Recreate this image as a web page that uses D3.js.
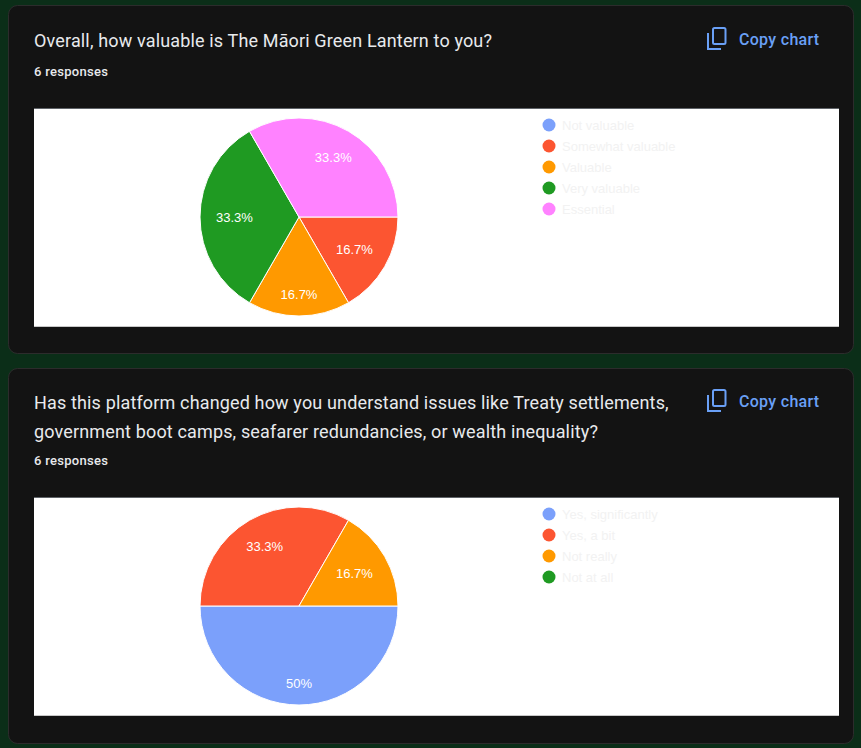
<!DOCTYPE html>
<html>
<head>
<meta charset="utf-8">
<script src="https://cdn.jsdelivr.net/npm/d3@7"></script>
<style>
  html, body { margin: 0; padding: 0; background: #0b2e18; }
  svg { display: block; }
</style>
</head>
<body>
<div id="chart"></div>
<script>
// Chart 1 data
const q1Title = ["Overall, how valuable is The Māori Green Lantern to you?"];
const q1Labels = ["Not valuable", "Somewhat valuable", "Valuable", "Very valuable", "Essential"];
const q1Counts = [0, 1, 1, 2, 2];

// Chart 2 data
const q2Title = [
  "Has this platform changed how you understand issues like Treaty settlements,",
  "government boot camps, seafarer redundancies, or wealth inequality?"
];
const q2Labels = ["Yes, significantly", "Yes, a bit", "Not really", "Not at all"];
const q2Counts = [3, 2, 1, 0];

const responses = "6 responses";
const palette = ["#7ba0fb", "#fc5531", "#ff9900", "#1f9a22", "#ff82ff"];

const W = 861, H = 748;
const svg = d3.select("#chart").append("svg")
  .attr("width", W)
  .attr("height", H);

svg.append("rect").attr("width", W).attr("height", H).attr("fill", "#0b2e18");

const cards = [
  { y: 5, h: 348, title: q1Title, labels: q1Labels, counts: q1Counts, titleBase: 47, respBase: 76, copyBase: 45, plotY: 108, plotH: 219 },
  { y: 368, h: 375, title: q2Title, labels: q2Labels, counts: q2Counts, titleBase: 409, respBase: 465, copyBase: 407, plotY: 497, plotH: 219 }
];

const radius = 99;
const labelReach = 83;

cards.forEach(c => {
  const card = svg.append("g");

  card.append("rect")
    .attr("x", 8.5).attr("y", c.y + 0.5)
    .attr("width", 845).attr("height", c.h)
    .attr("rx", 9)
    .attr("fill", "#131313")
    .attr("stroke", "#2c2c2c");

  // Title lines
  c.title.forEach((line, i) => {
    card.append("text")
      .attr("x", 34)
      .attr("y", c.titleBase + i * 28.5)
      .attr("fill", "#e8eaed")
      .style("font-family", "Roboto, sans-serif")
      .style("font-size", "18px")
      .style("letter-spacing", "0.15px")
      .text(line);
  });

  card.append("text")
    .attr("x", 34)
    .attr("y", c.respBase)
    .attr("fill", "#e8eaed")
    .style("font-family", "Roboto, sans-serif")
    .style("font-size", "13px")
    .style("font-weight", 500)
    .style("letter-spacing", "0.3px")
    .text(responses);

  // Copy chart button
  const btn = card.append("g").attr("transform", `translate(707,${c.copyBase - 17})`);
  btn.append("rect")
    .attr("x", 6).attr("y", 0).attr("width", 12.5).attr("height", 16)
    .attr("rx", 1.5)
    .attr("fill", "none").attr("stroke", "#6aa0f6").attr("stroke-width", 2);
  btn.append("path")
    .attr("d", "M1,5 V21 H14")
    .attr("fill", "none").attr("stroke", "#6aa0f6").attr("stroke-width", 2);
  card.append("text")
    .attr("x", 739)
    .attr("y", c.copyBase)
    .attr("fill", "#6aa0f6")
    .style("font-family", "Roboto, sans-serif")
    .style("font-size", "16px")
    .style("font-weight", 500)
    .style("letter-spacing", "0.3px")
    .text("Copy chart");

  // White plot area
  card.append("rect")
    .attr("x", 34).attr("y", c.plotY)
    .attr("width", 805).attr("height", c.plotH)
    .attr("fill", "#ffffff");
  card.append("line")
    .attr("x1", 34).attr("x2", 839)
    .attr("y1", c.plotY + 0.5).attr("y2", c.plotY + 0.5)
    .attr("stroke", "#5f6368");
  card.append("line")
    .attr("x1", 34).attr("x2", 839)
    .attr("y1", c.plotY + c.plotH - 0.5).attr("y2", c.plotY + c.plotH - 0.5)
    .attr("stroke", "#c8c8c8");

  const cx = 299, cy = c.plotY + 109;
  const total = d3.sum(c.counts);
  const color = d3.scaleOrdinal().domain(c.labels).range(palette);

  const pie = d3.pie()
    .sort(null)
    .value(d => d.count)
    .startAngle(Math.PI / 2)
    .endAngle(Math.PI / 2 + 2 * Math.PI);

  const rows = c.labels.map((l, i) => ({ label: l, count: c.counts[i] }));
  const arcs = pie(rows).filter(a => a.data.count > 0);
  const arc = d3.arc().innerRadius(0).outerRadius(radius);

  const pg = card.append("g").attr("transform", `translate(${cx},${cy})`);
  pg.selectAll("path")
    .data(arcs)
    .join("path")
    .attr("d", arc)
    .attr("fill", d => color(d.data.label))
    .attr("stroke", "#ffffff")
    .attr("stroke-width", 1);

  // Slice labels, pushed out until the text box reaches labelReach
  pg.selectAll("text.pct")
    .data(arcs)
    .join("text")
    .attr("class", "pct")
    .attr("fill", "#ffffff")
    .attr("text-anchor", "middle")
    .style("font-family", "Arial, 'Liberation Sans', sans-serif")
    .style("font-size", "13px")
    .text(d => {
      const p = Math.round(d.data.count / total * 1000) / 10;
      return p + "%";
    })
    .each(function (d) {
      const t = d3.select(this);
      const mid = (d.startAngle + d.endAngle) / 2;
      const ux = Math.sin(mid), uy = -Math.cos(mid);
      const hw = this.getComputedTextLength() / 2, hh = 6;
      const dist = labelReach - (Math.abs(ux) * hw + Math.abs(uy) * hh);
      t.attr("x", ux * dist).attr("y", uy * dist + 4.5);
    });

  // Legend
  const lg = card.append("g").attr("transform", `translate(549,${c.plotY + 17})`);
  const items = lg.selectAll("g")
    .data(c.labels)
    .join("g")
    .attr("transform", (d, i) => `translate(0,${i * 21})`);
  items.append("circle")
    .attr("r", 6.5)
    .attr("fill", d => color(d));
  items.append("text")
    .attr("x", 13)
    .attr("y", 4.5)
    .attr("fill", "#f2f2f2")
    .style("font-family", "Arial, 'Liberation Sans', sans-serif")
    .style("font-size", "13px")
    .text(d => d);
});
</script>
</body>
</html>
